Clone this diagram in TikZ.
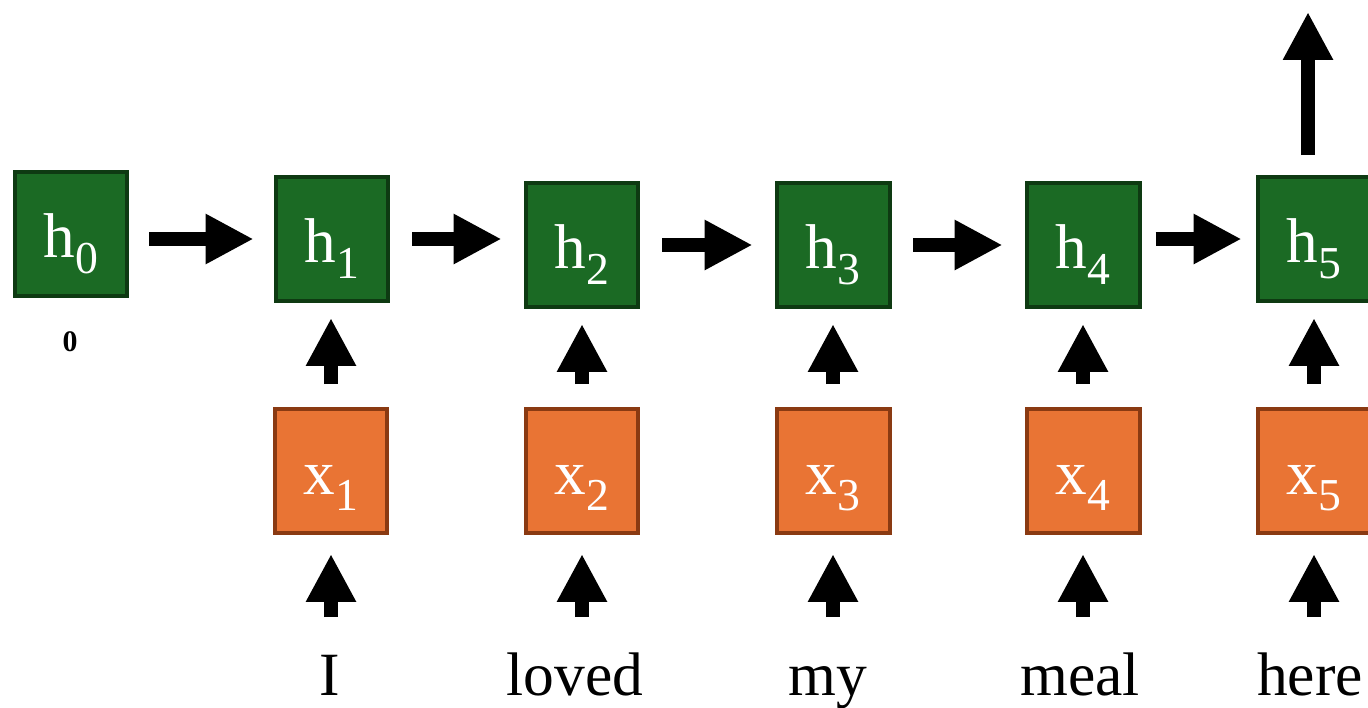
\documentclass[tikz,border=0pt]{standalone}
\usepackage{fontspec}
\setmainfont{Liberation Serif}
\usepackage{tikz}
\usetikzlibrary{arrows.meta, positioning}

\definecolor{hfill}{RGB}{27,106,36}
\definecolor{hline}{RGB}{14,58,18}
\definecolor{xfill}{RGB}{233,116,52}
\definecolor{xline}{RGB}{138,58,18}

\newcommand{\lowsub}[2]{#1\raisebox{-0.33cm}{\fontsize{26}{26}\selectfont #2}}

\tikzset{
  cell/.style={draw, line width=0.08cm, minimum width=2.26cm, minimum height=2.48cm,
    inner sep=0pt, text=white, font=\fontsize{36}{40}\selectfont,
    text height=1.2cm, text depth=0.28cm},
  hcell/.style={cell, fill=hfill, draw=hline},
  xcell/.style={cell, fill=xfill, draw=xline},
  word/.style={anchor=base, inner sep=0pt, font=\fontsize{35}{40}\selectfont,
    text height=0.93cm, text depth=0.25cm},
  flow/.style={line width=0.29cm, -{Triangle[length=0.96cm, width=0.94cm]},
    shorten <=0.44cm, shorten >=0.44cm}
}

\begin{document}
\begin{tikzpicture}[x=0.02cm, y=-0.02cm]
        \useasboundingbox (0,0) rectangle (1368,707);

        % Hidden states
        \node[hcell] (h0) at (71,234) {\lowsub{h}{0}};
        \node[hcell] (h1) at (332,239) {\lowsub{h}{1}};
        \node[hcell] (h2) at (582,245) {\lowsub{h}{2}};
        \node[hcell] (h3) at (833,245) {\lowsub{h}{3}};
        \node[hcell] (h4) at (1083,245) {\lowsub{h}{4}};
        \node[hcell] (h5) at (1314,239) {\lowsub{h}{5}};
        \node[font=\bfseries\fontsize{17}{20}\selectfont] (zero) at (70,342) {0};

        % Inputs
        \node[xcell] (x1) at (331,471) {\lowsub{x}{1}};
        \node[xcell] (x2) at (582,471) {\lowsub{x}{2}};
        \node[xcell] (x3) at (833,471) {\lowsub{x}{3}};
        \node[xcell] (x4) at (1083,471) {\lowsub{x}{4}};
        \node[xcell] (x5) at (1314,471) {\lowsub{x}{5}};

        % Words
        \node[word] (w1) at (330,695) {I};
        \node[word] (w2) at (575,695) {loved};
        \node[word] (w3) at (828,695) {my};
        \node[word] (w4) at (1080,695) {meal};
        \node[word] (w5) at (1310,695) {here};

        % Recurrence
        \draw[flow, shorten <=0.4cm, shorten >=0.4cm] (h0.east |- h1) -- (h1.west);
        \draw[flow] (h1.east) -- (h1.east -| h2.west);
        \draw[flow] (h2) -- (h3);
        \draw[flow] (h3) -- (h4);
        \draw[flow, shorten <=0.28cm, shorten >=0.28cm] (h4.east |- h5) -- (h5.west);

        % Input to state
        \draw[flow, shorten <=0.46cm, shorten >=0.3cm] (x1.north) -- (x1.north |- h1.south);
        \draw[flow, shorten <=0.46cm, shorten >=0.3cm] (x2.north) -- (x2.north |- h2.south);
        \draw[flow, shorten <=0.46cm, shorten >=0.3cm] (x3.north) -- (x3.north |- h3.south);
        \draw[flow, shorten <=0.46cm, shorten >=0.3cm] (x4.north) -- (x4.north |- h4.south);
        \draw[flow, shorten <=0.46cm, shorten >=0.3cm] (x5.north) -- (x5.north |- h5.south);

        % Word to input
        \draw[flow, shorten <=0.62cm, shorten >=0.38cm] (x1.south |- w1.north) -- (x1.south);
        \draw[flow, shorten <=0.62cm, shorten >=0.38cm] (x2.south |- w2.north) -- (x2.south);
        \draw[flow, shorten <=0.62cm, shorten >=0.38cm] (x3.south |- w3.north) -- (x3.south);
        \draw[flow, shorten <=0.62cm, shorten >=0.38cm] (x4.south |- w4.north) -- (x4.south);
        \draw[flow, shorten <=0.62cm, shorten >=0.38cm] (x5.south |- w5.north) -- (x5.south);

        % Output
        \coordinate (out) at (1308,12);
        \draw[flow, shorten <=0.4cm, shorten >=0pt] (h5.north -| out) -- (out);
      \end{tikzpicture}
\end{document}
